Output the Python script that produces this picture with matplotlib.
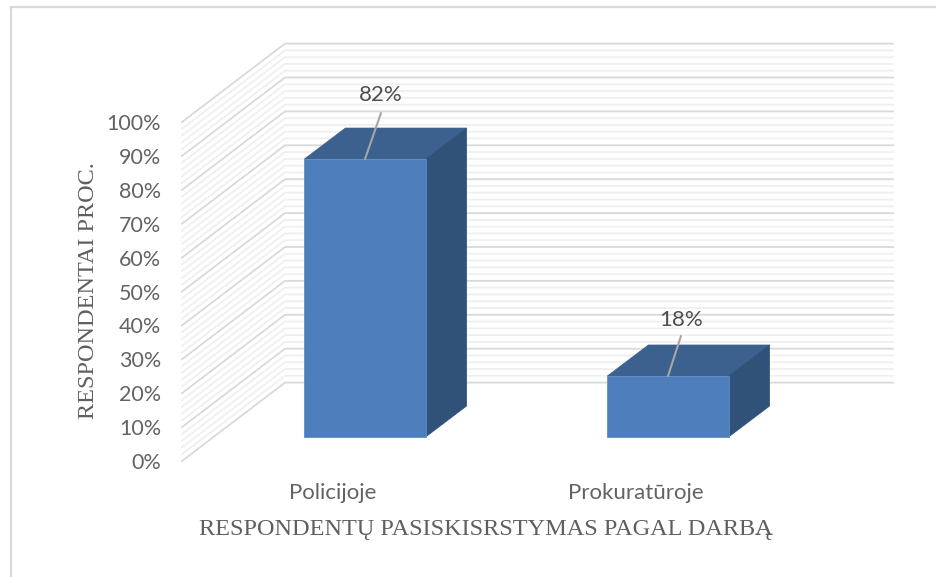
import matplotlib
matplotlib.use("Agg")
import matplotlib.pyplot as plt
from matplotlib.patches import Polygon
from matplotlib.lines import Line2D

# ---- data ----
categories = ["Policijoje", "Prokuratūroje"]
values = [82, 18]
value_labels = ["82%", "18%"]
axis_ticks = list(range(0, 101, 10))
axis_tick_labels = [f"{t}%" for t in axis_ticks]
minor_ticks = [t for t in range(0, 101, 2) if t % 10]
x_title = "RESPONDENTŲ PASISKISRSTYMAS PAGAL DARBĄ"
y_title = "RESPONDENTAI PROC."

# ---- layout (pixels of the 936x577 canvas) ----
W, H = 936, 577
PX_LEFT, PX_RIGHT, PX_TOP, PX_BOTTOM = 182, 893, 43, 461
CAT_STEP_PX = 303      # distance between bar centres
CAT0_PX = 365          # centre of the first bar
Y_SCALE_PX = 3.39      # pixels per percentage point
BASE_PX = 437          # screen y of 0% on the bars' front plane
BAR_WIDTH = 0.4
DEPTH_DX_PX, DEPTH_DY_PX = 41, 31          # bar depth
WALL_DX_PX, WALL_DY_PX = 103, 78.4         # side wall depth
TICK_SHIFT_PX = -32
LEADER_PX = [(16, 46), (13, 40)]
LABEL_PX = [(15.5, 64), (13, 56)]

fig = plt.figure(figsize=(W / 100, H / 100), dpi=100, facecolor="white")
ax = fig.add_axes([PX_LEFT / W, 1 - PX_BOTTOM / H,
                   (PX_RIGHT - PX_LEFT) / W, (PX_BOTTOM - PX_TOP) / H])
ax.set_xlim((PX_LEFT - CAT0_PX) / CAT_STEP_PX, (PX_RIGHT - CAT0_PX) / CAT_STEP_PX)
ax.set_ylim((BASE_PX - PX_BOTTOM) / Y_SCALE_PX, (BASE_PX - PX_TOP) / Y_SCALE_PX)
for s in ax.spines.values():
    s.set_visible(False)
ax.patch.set_alpha(0)

dx_unit = 1 / CAT_STEP_PX
dy_unit = 1 / Y_SCALE_PX
x_front = ax.get_xlim()[0]
x_back = x_front + WALL_DX_PX * dx_unit
x_end = ax.get_xlim()[1]
y_front_off = ax.get_ylim()[0]
y_back_off = y_front_off + WALL_DY_PX * dy_unit


def wall(v, color, lw, z):
    ax.plot([x_front, x_back, x_end],
            [v + y_front_off, v + y_back_off, v + y_back_off],
            color=color, lw=lw, zorder=z, solid_joinstyle="miter", clip_on=False)


for v in minor_ticks:
    wall(v, "#efefef", 1.3, 1)
for v in axis_ticks:
    wall(v, "#d9d9d9", 1.3, 2)

# ---- bars ----
ddx = DEPTH_DX_PX * dx_unit
ddy = DEPTH_DY_PX * dy_unit
for i, v in enumerate(values):
    l, r = i - BAR_WIDTH / 2, i + BAR_WIDTH / 2
    ax.add_patch(Polygon([(l, v), (r, v), (r + ddx, v + ddy), (l + ddx, v + ddy)],
                         closed=True, fc="#3c618f", ec="#3c618f", lw=0.5, zorder=3))
    ax.add_patch(Polygon([(r, 0), (r + ddx, ddy), (r + ddx, v + ddy), (r, v)],
                         closed=True, fc="#305178", ec="#305178", lw=0.5, zorder=3))
ax.bar(range(len(values)), values, width=BAR_WIDTH, color="#4e7ebb",
       edgecolor="#5f8fc9", linewidth=0.6, zorder=4)

# ---- data labels with leader lines ----
for i, (v, txt) in enumerate(zip(values, value_labels)):
    lx, ly = LEADER_PX[i]
    ax.annotate("", xy=(i, v), xytext=(lx * 0.72, ly * 0.72),
                textcoords="offset points",
                arrowprops=dict(arrowstyle="-", color="#a6a6a6", lw=1.5,
                                shrinkA=0, shrinkB=0), zorder=5)
    tx, ty = LABEL_PX[i]
    ax.annotate(txt, xy=(i, v), xytext=(tx * 0.72, ty * 0.72),
                textcoords="offset points", ha="center", va="center",
                family="Lato", fontsize=16, color="#4d4d4d", zorder=6)

# ---- axes text ----
ax.set_yticks([t + y_front_off for t in axis_ticks])
ax.set_yticklabels(axis_tick_labels, family="Lato", fontsize=15.5, color="#636363")
ax.tick_params(axis="y", length=0, pad=15)
ax.set_xticks([i + TICK_SHIFT_PX * dx_unit for i in range(len(categories))])
ax.set_xticklabels(categories, family="Lato", fontsize=16, color="#636363")
ax.tick_params(axis="x", length=0, pad=16)

fig.text(486 / W, 1 - 530 / H, x_title, family="Liberation Serif", fontsize=17.5,
         color="#5f5f5f", ha="center", va="center")
fig.text(89 / W, 1 - 291 / H, y_title, family="Liberation Serif", fontsize=17.5,
         color="#5f5f5f", ha="center", va="center", rotation=90)

# ---- outer frame (top and left only are visible in the crop) ----
fig.add_artist(Line2D([11 / W, 11 / W, 1], [0, 1 - 7 / H, 1 - 7 / H],
                      color="#d9d9d9", lw=1.6, transform=fig.transFigure))

fig.savefig("out.png", dpi=100, facecolor="white")
